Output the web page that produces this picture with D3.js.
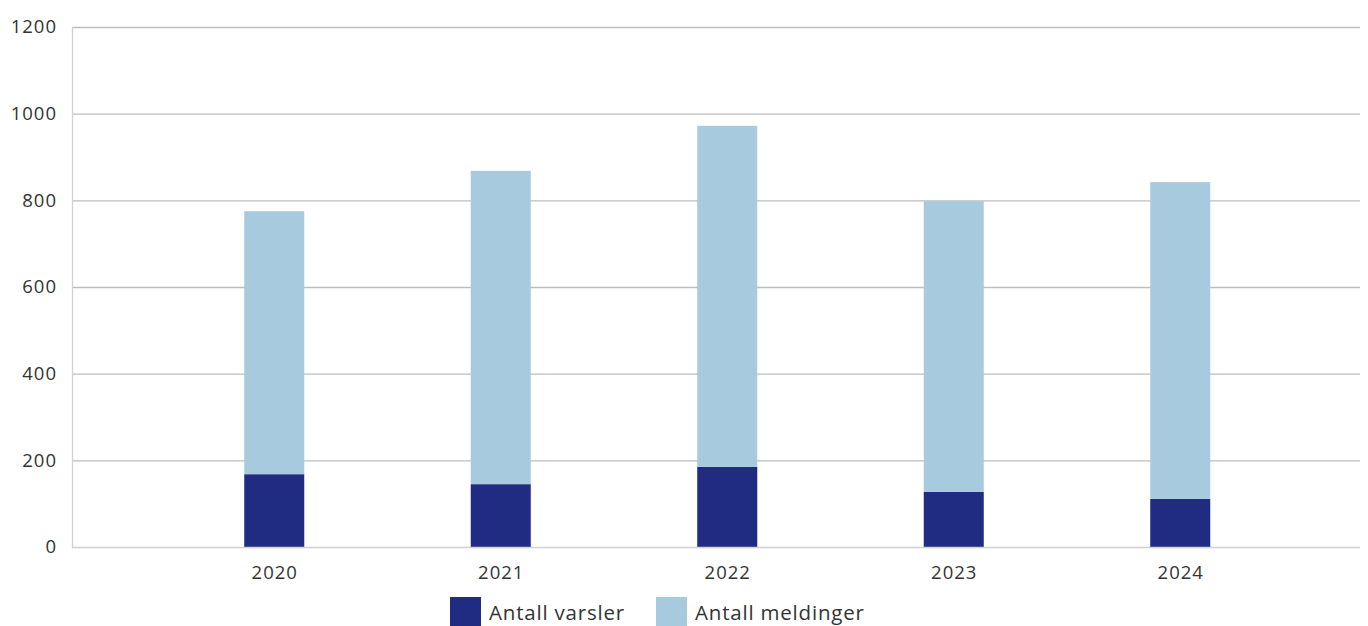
<!DOCTYPE html>
<html><head><meta charset="utf-8">
<script src="https://cdn.jsdelivr.net/npm/d3@7"></script>
<style>body{margin:0;background:#fff}svg{display:block}text{font-family:"Open Sans",sans-serif;fill:#333}</style>
</head><body><svg id="c" width="1368" height="626"></svg>
<script>
const years = ["2020","2021","2022","2023","2024"];
const varsler = [168,145,185,127,111];
const meldinger = [607,723,787,671,731];
const yTicks = [0,200,400,600,800,1000,1200];
const seriesNames = ["Antall varsler","Antall meldinger"];
const colors = ["#202c82","#a8cadf"];

const svg = d3.select("#c");
const plotL = 72, plotR = 1360, plotT = 27, plotB = 547;
const y = d3.scaleLinear().domain([0,1200]).range([plotB, plotT]);
const x = d3.scaleBand().domain(years).range([161, 1293.5]).paddingInner(0.735).paddingOuter(0.3675);

// gridlines
svg.append("g").selectAll("line").data(yTicks.filter(d=>d>0)).join("line")
  .attr("x1", plotL).attr("x2", plotR).attr("y1", d=>y(d)+0.5).attr("y2", d=>y(d)+0.5)
  .attr("stroke", "#bdbdbd").attr("stroke-width", 1.3);

const rows = years.map((yr,i)=>({year:yr, v:varsler[i], m:meldinger[i]}));
const stack = d3.stack().keys(["v","m"])(rows);
svg.append("g").selectAll("g").data(stack).join("g").attr("fill",(d,i)=>colors[i])
  .selectAll("rect").data(d=>d).join("rect")
  .attr("x", d=>x(d.data.year)).attr("width", x.bandwidth())
  .attr("y", d=>y(d[1])).attr("height", d=>y(d[0])-y(d[1]));

// axes lines
svg.append("line").attr("x1",plotL+0.5).attr("x2",plotL+0.5).attr("y1",plotT).attr("y2",plotB+1)
  .attr("stroke","#d0d0d0").attr("stroke-width",1.3);
svg.append("line").attr("x1",plotL).attr("x2",plotR).attr("y1",plotB+0.5).attr("y2",plotB+0.5)
  .attr("stroke","#d0d0d0").attr("stroke-width",1.3);

// y labels
svg.append("g").selectAll("text").data(yTicks).join("text")
  .attr("x", 57).attr("y", d=>y(d)).attr("dy","0.35em").attr("text-anchor","end")
  .attr("font-size", 18.5).attr("letter-spacing", 1).text(d=>d);

// x labels
svg.append("g").selectAll("text").data(years).join("text")
  .attr("x", d=>x(d)+x.bandwidth()/2+0.5).attr("y", 579).attr("text-anchor","middle")
  .attr("font-size", 18.5).attr("letter-spacing", 1).text(d=>d);

// legend
const leg = [{x:450, tx:489},{x:656, tx:695}];
const lg = svg.append("g").selectAll("g").data(seriesNames).join("g");
lg.append("rect").attr("x",(d,i)=>leg[i].x).attr("y",597).attr("width",31).attr("height",31).attr("fill",(d,i)=>colors[i]);
lg.append("text").attr("x",(d,i)=>leg[i].tx).attr("y",620).attr("font-size",20.5).attr("letter-spacing",0.8).text(d=>d);
</script></body></html>
